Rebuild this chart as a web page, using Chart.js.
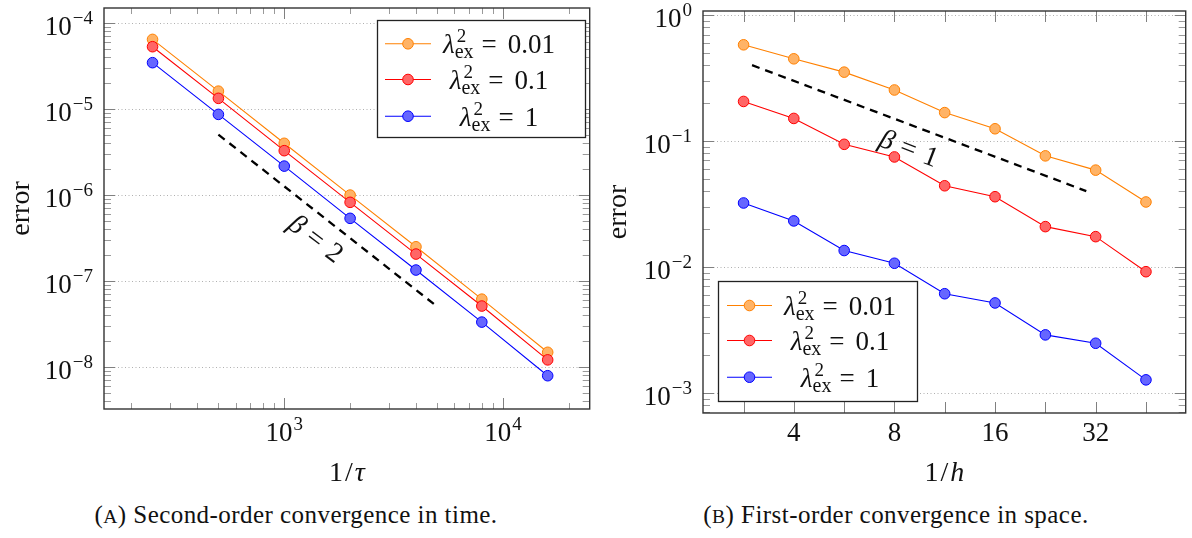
<!DOCTYPE html>
<html>
<head>
<meta charset="utf-8">
<script src="https://cdn.jsdelivr.net/npm/chart.js@4.4.1/dist/chart.umd.min.js"></script>
<style>
  html, body { margin:0; padding:0; background:#fff; }
  #wrap { position:relative; width:1192px; height:538px; overflow:hidden; background:#fff; }
  canvas { position:absolute; top:0; }
  .cap { position:absolute; top:500px; width:592px; text-align:center; line-height:30px;
         font-family:"Liberation Serif","DejaVu Serif",serif; font-size:25px; letter-spacing:0.45px; color:#111; white-space:nowrap; }
  .sc { font-size:0.78em; }
</style>
</head>
<body>
<div id="wrap">
  <canvas id="cA" width="596" height="490" style="left:0px"></canvas>
  <canvas id="cB" width="596" height="490" style="left:596px"></canvas>
  <div class="cap" style="left:0px">(<span class="sc">A</span>) Second-order convergence in time.</div>
  <div class="cap" style="left:600px">(<span class="sc">B</span>) First-order convergence in space.</div>
</div>
<script>
// ---------------- DATA ----------------
// Panel A: convergence in time
const xTau = [250, 500, 1000, 2000, 4000, 8000, 16000];
const errTau001 = [6.4e-5, 1.6e-5, 3.96e-6, 9.9e-7, 2.48e-7, 6.1e-8, 1.47e-8];
const errTau01  = [5.26e-5, 1.32e-5, 3.25e-6, 8.15e-7, 2.04e-7, 5.07e-8, 1.2e-8];
const errTau1   = [3.43e-5, 8.59e-6, 2.15e-6, 5.31e-7, 1.33e-7, 3.3e-8, 7.85e-9];
const slopeTauX = [500, 5000];
const slopeTauY = [5e-6, 5e-8];
const slopeTauLabel = ['β', '=', '2'];
const slopeTauLabelAt = [1400, 3.1e-7];

// Panel B: convergence in space
const xH = [2.83, 4, 5.66, 8, 11.31, 16, 22.63, 32, 45.25];
const errH001 = [0.58, 0.449, 0.352, 0.254, 0.168, 0.125, 0.0762, 0.0587, 0.0328];
const errH01  = [0.206, 0.151, 0.0941, 0.0747, 0.0441, 0.0361, 0.0209, 0.0174, 0.00917];
const errH1   = [0.0322, 0.0232, 0.0135, 0.0107, 0.00613, 0.00518, 0.00289, 0.00248, 0.00127];
const slopeHX = [3, 30];
const slopeHY = [0.4, 0.04];
const slopeHLabel = ['β', '=', '1'];
const slopeHLabelAt = [8.85, 0.088];

// Legend values
const lambdaValues = ['0.01', '0.1', '1'];

// Tick values and labels
const yMajorA = [1e-4, 1e-5, 1e-6, 1e-7, 1e-8];
const yMajorLabelsA = ['10^−4', '10^−5', '10^−6', '10^−7', '10^−8'];
const xMajorA = [1000, 10000];
const xMajorLabelsA = ['10^3', '10^4'];
const yMajorB = [1, 0.1, 0.01, 0.001];
const yMajorLabelsB = ['10^0', '10^−1', '10^−2', '10^−3'];
const xTicksB = [2.83, 4, 5.66, 8, 11.31, 16, 22.63, 32, 45.25];
const xTickLabelsB = ['', '4', '', '8', '', '16', '', '32', ''];

// ---------------- STYLE ----------------
const FONT = '"Liberation Serif","DejaVu Serif",serif';
const TXT = '#111';
const FS = 27, FSS = 19;
const COLORS = [
  { line:'#ff8000', fill:'#ffb366' },
  { line:'#ff0000', fill:'#ff6666' },
  { line:'#0000ff', fill:'#6666ff' }
];
function fnt(size, italic){ return (italic ? 'italic ' : '') + size + 'px ' + FONT; }

function minorTicks(lo, hi){
  const out = [];
  for (let e = Math.floor(Math.log10(lo)); e <= Math.ceil(Math.log10(hi)); e++){
    for (let m = 2; m <= 9; m++){ const v = m * Math.pow(10, e); if (v > lo && v < hi) out.push(v); }
  }
  return out;
}

// --- text helpers (segments with optional stacked super/subscripts) ---
function segW(ctx, s){
  if (s.stack){
    return Math.max.apply(null, s.stack.map(p => { ctx.font = fnt(p.s, p.i); return ctx.measureText(p.t).width + (p.dx || 0); }));
  }
  ctx.font = fnt(s.s, s.i); return ctx.measureText(s.t).width;
}
function drawSegs(ctx, segs, x, y, align){
  let total = 0;
  for (const s of segs) total += (s.dx || 0) + segW(ctx, s);
  let cx = align === 'center' ? x - total / 2 : (align === 'right' ? x - total : x);
  ctx.textAlign = 'left'; ctx.textBaseline = 'alphabetic'; ctx.fillStyle = TXT;
  for (const s of segs){
    cx += s.dx || 0;
    if (s.stack){
      for (const p of s.stack){ ctx.font = fnt(p.s, p.i); ctx.fillText(p.t, cx + (p.dx || 0), y + p.dy); }
    } else {
      ctx.font = fnt(s.s, s.i); ctx.fillText(s.t, cx, y + (s.dy || 0));
    }
    cx += segW(ctx, s);
  }
  return total;
}
function powSegs(label){
  const [b, e] = label.split('^');
  return [{ t:b, s:FS }, { t:e, s:FSS, dy:-11, dx:1 }];
}
function lambdaSegs(v){
  return [
    { t:'λ', s:FS, i:true },
    { stack:[ { t:'2', s:FSS, dy:-11, dx:2 }, { t:'ex', s:FSS + 1, dy:5 } ] },
    { t:'=', s:FS, dx:8 },
    { t:v, s:FS, dx:11 }
  ];
}

function makeDatasets(xs, series, slopeX, slopeY){
  const ds = series.map((ys, k) => ({
    label: 'λ²ex = ' + lambdaValues[k],
    data: xs.map((x, i) => ({ x: x, y: ys[i] })),
    borderColor: COLORS[k].line,
    backgroundColor: COLORS[k].fill,
    pointBackgroundColor: COLORS[k].fill,
    pointBorderColor: COLORS[k].line,
    borderWidth: 1.1,
    pointBorderWidth: 1,
    pointRadius: 5.3,
    tension: 0,
    order: 3 - k
  }));
  ds.push({
    label: 'slope',
    data: slopeX.map((x, i) => ({ x: x, y: slopeY[i] })),
    borderColor: '#000',
    borderWidth: 2.3,
    borderDash: [8, 6],
    pointRadius: 0,
    order: 10
  });
  return ds;
}

// plugin factory
function decor(cfg){
  return {
    id: 'decor' + cfg.name,
    beforeDatasetsDraw(chart){
      const ctx = chart.ctx, a = chart.chartArea, ys = chart.scales.y;
      ctx.save();
      ctx.strokeStyle = '#b0b0b0'; ctx.lineWidth = 1; ctx.setLineDash([1, 2.5]);
      for (const v of cfg.yMajor){
        const py = Math.round(ys.getPixelForValue(v)) + 0.5;
        ctx.beginPath(); ctx.moveTo(a.left, py); ctx.lineTo(a.right, py); ctx.stroke();
      }
      ctx.restore();
    },
    afterDatasetsDraw(chart){
      const ctx = chart.ctx, a = chart.chartArea, xs = chart.scales.x, ys = chart.scales.y;
      ctx.save();
      ctx.setLineDash([]);
      ctx.lineWidth = 1;
      function hTick(v, len, col){
        const py = Math.round(ys.getPixelForValue(v)) + 0.5;
        ctx.strokeStyle = col;
        ctx.beginPath(); ctx.moveTo(a.left, py); ctx.lineTo(a.left + len, py);
        ctx.moveTo(a.right, py); ctx.lineTo(a.right - len, py); ctx.stroke();
      }
      function vTick(v, len, col){
        const px = Math.round(xs.getPixelForValue(v)) + 0.5;
        ctx.strokeStyle = col;
        ctx.beginPath(); ctx.moveTo(px, a.bottom); ctx.lineTo(px, a.bottom - len);
        ctx.moveTo(px, a.top); ctx.lineTo(px, a.top + len); ctx.stroke();
      }
      for (const v of minorTicks(ys.min, ys.max)) hTick(v, 7, '#9a9a9a');
      for (const v of cfg.yMajor) hTick(v, 11, '#808080');
      if (cfg.xMinor) for (const v of minorTicks(xs.min, xs.max)) vTick(v, 6, '#9a9a9a');
      for (const v of cfg.xMajor) vTick(v, 11, '#808080');
      ctx.strokeStyle = '#333'; ctx.lineWidth = 1.4;
      ctx.strokeRect(a.left, a.top, a.right - a.left, a.bottom - a.top);

      // tick labels
      cfg.yMajor.forEach((v, i) => {
        const py = ys.getPixelForValue(v);
        drawSegs(ctx, powSegs(cfg.yLabels[i]), a.left - 11, py + 12, 'right');
      });
      cfg.xMajor.forEach((v, i) => {
        const lab = cfg.xLabels[i];
        if (!lab) return;
        const px = xs.getPixelForValue(v);
        if (lab.indexOf('^') >= 0) drawSegs(ctx, powSegs(lab), px, a.bottom + 32, 'center');
        else drawSegs(ctx, [{ t:lab, s:FS }], px, a.bottom + 28, 'center');
      });
      // axis titles
      drawSegs(ctx, [{ t:'1', s:28 }, { t:'/', s:28, dx:2 }, { t:cfg.xVar, s:28, i:true, dx:2 }], (a.left + a.right) / 2, 481, 'center');
      ctx.save();
      ctx.translate(cfg.yTitleX, (a.top + a.bottom) / 2);
      ctx.rotate(-Math.PI / 2);
      drawSegs(ctx, [{ t:'error', s:28 }], 0, 0, 'center');
      ctx.restore();

      // slope label
      ctx.save();
      ctx.translate(xs.getPixelForValue(cfg.slopeAt[0]), ys.getPixelForValue(cfg.slopeAt[1]));
      ctx.rotate(cfg.slopeAngle * Math.PI / 180);
      drawSegs(ctx, [{ t:cfg.slopeLabel[0], s:28, i:true }, { t:cfg.slopeLabel[1], s:28, dx:8 }, { t:cfg.slopeLabel[2], s:28, dx:9 }], 0, 9, 'center');
      ctx.restore();

      // legend
      const L = cfg.legend;
      ctx.fillStyle = '#fff';
      ctx.fillRect(L.x0, L.y0, L.x1 - L.x0, L.y1 - L.y0);
      ctx.strokeStyle = '#222'; ctx.lineWidth = 1.3;
      ctx.strokeRect(L.x0, L.y0, L.x1 - L.x0, L.y1 - L.y0);
      const dsets = chart.data.datasets;
      for (let k = 0; k < 3; k++){
        const ry = L.rows[k];
        ctx.strokeStyle = dsets[k].borderColor; ctx.lineWidth = 1.1;
        ctx.beginPath(); ctx.moveTo(L.lx0, ry + 0.5); ctx.lineTo(L.lx1, ry + 0.5); ctx.stroke();
        ctx.beginPath(); ctx.arc((L.lx0 + L.lx1) / 2, ry + 0.5, 5.3, 0, Math.PI * 2);
        ctx.fillStyle = dsets[k].pointBackgroundColor; ctx.fill();
        ctx.lineWidth = 1; ctx.strokeStyle = dsets[k].pointBorderColor; ctx.stroke();
        drawSegs(ctx, lambdaSegs(lambdaValues[k]), L.tc, ry + 10, 'center');
      }
      ctx.restore();
    }
  };
}

Chart.defaults.font.family = FONT;

function hiddenScale(opts, fit){
  return Object.assign({
    type:'logarithmic',
    display:true,
    ticks:{ display:false },
    grid:{ display:false, drawTicks:false },
    border:{ display:false },
    title:{ display:false },
    afterFit: fit
  }, opts);
}

new Chart(document.getElementById('cA'), {
  type:'line',
  data:{ datasets: makeDatasets(xTau, [errTau001, errTau01, errTau1], slopeTauX, slopeTauY) },
  options:{
    responsive:false, animation:false, devicePixelRatio:1,
    layout:{ padding:{ left:0, right:6, top:8, bottom:0 } },
    plugins:{ legend:{ display:false }, tooltip:{ enabled:false } },
    scales:{
      x: hiddenScale({ min:150, max:24900 }, s => { s.height = 81; }),
      y: hiddenScale({ min:3.22e-9, max:1.483e-4 }, s => { s.width = 104; })
    }
  },
  plugins:[ decor({
    name:'A', yMajor:yMajorA, yLabels:yMajorLabelsA, xMajor:xMajorA, xLabels:xMajorLabelsA, xMinor:true,
    xVar:'τ', yTitleX:29, slopeAt:slopeTauLabelAt, slopeAngle:37, slopeLabel:slopeTauLabel,
    legend:{ x0:377.5, y0:20.5, x1:585.5, y1:137.5, rows:[43.3, 79, 115.7], lx0:385, lx1:431, tc:499 }
  }) ]
});

new Chart(document.getElementById('cB'), {
  type:'line',
  data:{ datasets: makeDatasets(xH, [errH001, errH01, errH1], slopeHX, slopeHY) },
  options:{
    responsive:false, animation:false, devicePixelRatio:1,
    layout:{ padding:{ left:0, right:3, top:11, bottom:0 } },
    plugins:{ legend:{ display:false }, tooltip:{ enabled:false } },
    scales:{
      x: hiddenScale({ min:2.14, max:59.5 }, s => { s.height = 77; }),
      y: hiddenScale({ min:6.93e-4, max:1.076 }, s => { s.width = 107; })
    }
  },
  plugins:[ decor({
    name:'B', yMajor:yMajorB, yLabels:yMajorLabelsB, xMajor:xTicksB, xLabels:xTickLabelsB, xMinor:false,
    xVar:'h', yTitleX:30, slopeAt:slopeHLabelAt, slopeAngle:21, slopeLabel:slopeHLabel,
    legend:{ x0:122.5, y0:281.5, x1:321.5, y1:401.5, rows:[305, 340, 376.7], lx0:131, lx1:176, tc:244 }
  }) ]
});
</script>
</body>
</html>
